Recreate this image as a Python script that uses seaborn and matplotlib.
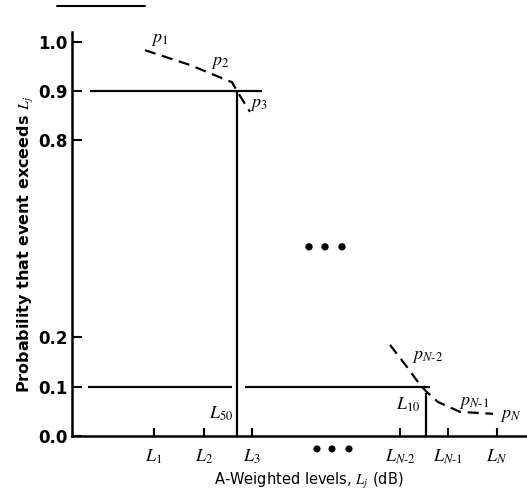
import numpy as np
import pandas as pd
import matplotlib
matplotlib.use("Agg")
import matplotlib.pyplot as plt
import seaborn as sns
from matplotlib.ticker import FixedLocator, FixedFormatter, NullLocator
from matplotlib.lines import Line2D

# ---------------- data ----------------
# probability tick values (broken axis between 0.2 and 0.8)
prob_ticks = [0.0, 0.1, 0.2, 0.8, 0.9, 1.0]
prob_labels = ["0.0", "0.1", "0.2", "0.8", "0.9", "1.0"]

# A-weighted levels (schematic positions on the level axis)
level_pos = [1.64, 2.64, 3.60, 6.56, 7.52, 8.50]
level_labels = [r"$L_1$", r"$L_2$", r"$L_3$",
                r"$L_{N\text{-}2}$", r"$L_{N\text{-}1}$", r"$L_N$"]
# ellipsis dots under the level axis
axis_dots_x = [4.90, 5.20, 5.54]

# statistical levels
L90_level = 3.30   # labelled L50 in the figure
L10_level = 7.08

# cumulative exceedance curve, upper part (p1, p2, p3)
upper_x = [1.46, 2.36, 3.20, 3.30, 3.56]
upper_p = [0.983, 0.953, 0.918, 0.900, 0.858]

# cumulative exceedance curve, lower part (pN-2, pN-1, pN)
lower_x = [6.36, 6.70, 6.96, 7.10, 7.32, 7.76, 8.42]
lower_p = [0.185, 0.140, 0.104, 0.089, 0.069, 0.049, 0.045]

# reference lines
h90_x = [0.36, 3.80]
h10_segments = [[0.32, 3.20], [3.46, 7.16]]

# ellipsis dots in the middle of the plot
dots_x = [4.74, 5.06, 5.40]
dots_p = [0.476, 0.476, 0.476]

# annotations: (text, x, p)
annotations = [
    (r"$p_1$", 1.76, 1.006),
    (r"$p_2$", 2.96, 0.959),
    (r"$p_3$", 3.74, 0.874),
    (r"$p_{N\text{-}2}$", 7.12, 0.162),
    (r"$p_{N\text{-}1}$", 8.04, 0.069),
    (r"$p_N$", 8.78, 0.043),
    (r"$L_{50}$", 2.98, 0.045),
    (r"$L_{10}$", 6.72, 0.063),
]

# ---------------- style ----------------
sns.set_theme(style="white")
plt.rcParams["font.family"] = ["DejaVu Sans"]
plt.rcParams["mathtext.fontset"] = "stix"

fig = plt.figure(figsize=(5.27, 4.98), dpi=100)
ax = fig.add_axes([72 / 527, 62 / 498, 455 / 527, 404 / 498])

bp = np.array([0.0, 0.2, 0.8, 1.0])
bu = np.array([0.0, 2.0, 6.0, 8.0])


def fwd(y):
    y = np.asarray(y, dtype=float)
    u = np.interp(y, bp, bu)
    u = np.where(y > 1.0, 8.0 + (y - 1.0) * 10.0, u)
    u = np.where(y < 0.0, y * 10.0, u)
    return u


def inv(u):
    u = np.asarray(u, dtype=float)
    y = np.interp(u, bu, bp)
    y = np.where(u > 8.0, 1.0 + (u - 8.0) / 10.0, y)
    y = np.where(u < 0.0, u / 10.0, y)
    return y


ax.set_yscale("function", functions=(fwd, inv))
ax.set_xlim(0, 9.1)
ax.set_ylim(0, 1.02)

lw = 1.6
# dashed cumulative curves
sns.lineplot(x=upper_x, y=upper_p, ax=ax, color="black", lw=lw,
             linestyle=(0, (5, 3)), sort=False, estimator=None)
sns.lineplot(x=lower_x, y=lower_p, ax=ax, color="black", lw=lw,
             linestyle=(0, (5, 3)), sort=False, estimator=None)

# reference lines
ax.hlines(0.9, h90_x[0], h90_x[1], color="black", lw=lw)
for seg in h10_segments:
    ax.hlines(0.1, seg[0], seg[1], color="black", lw=lw)
ax.vlines(L90_level, 0.0, 0.9, color="black", lw=lw)
ax.vlines(L10_level, 0.0, 0.088, color="black", lw=lw)

# middle dots
sns.scatterplot(x=dots_x, y=dots_p, ax=ax, color="black", s=28,
                edgecolor="none")
# dots under the axis (ellipsis between L3 and LN-2)
ax.scatter(axis_dots_x, [-0.032] * len(axis_dots_x), s=26, color="black",
           edgecolor="none", transform=ax.get_xaxis_transform(), clip_on=False)

for txt, x, p in annotations:
    ax.text(x, p, txt, fontsize=13, ha="center", va="center",
            color="black", clip_on=False)

# stray rule at the top of the scanned page
fig.add_artist(Line2D([57 / 527, 145 / 527], [1 - 6 / 498, 1 - 6 / 498],
                      color="black", lw=1.5))

# axes / ticks
for s in ["top", "right"]:
    ax.spines[s].set_visible(False)
for s in ["left", "bottom"]:
    ax.spines[s].set_color("black")
    ax.spines[s].set_linewidth(1.8)

ax.yaxis.set_major_locator(FixedLocator(prob_ticks))
ax.yaxis.set_major_formatter(FixedFormatter(prob_labels))
ax.yaxis.set_minor_locator(NullLocator())
ax.tick_params(axis="y", direction="in", length=7, width=1.5,
               colors="black", labelsize=12, pad=3, left=True)
for t in ax.get_yticklabels():
    t.set_fontweight("bold")

ax.set_xticks(level_pos)
ax.set_xticklabels(level_labels)
ax.tick_params(axis="x", direction="in", length=6, width=1.5,
               colors="black", labelsize=13, pad=8, bottom=True)

ax.set_xlabel(r"A-Weighted levels, $L_j$ (dB)", fontsize=10.5, color="black")
ax.xaxis.set_label_coords(0.52, -0.087)
ax.set_ylabel(r"Probability that event exceeds $L_j$", fontsize=11.5,
              fontweight="bold", color="black")
ax.yaxis.set_label_coords(-0.079, 0.475)

fig.savefig("out.png", dpi=100)
